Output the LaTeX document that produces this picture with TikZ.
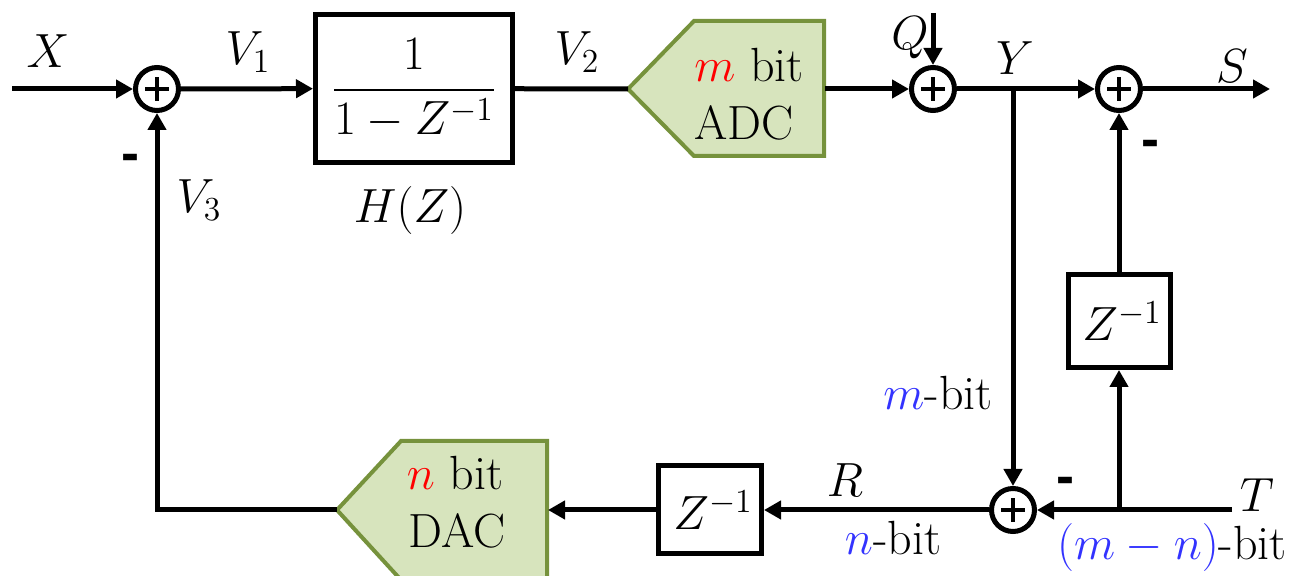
\RequirePackage{fix-cm}
\documentclass[tikz,border=0pt]{standalone}
\usepackage{amsmath}
\usepackage{fontspec}
\newfontfamily\minusfont{Liberation Sans}
\usetikzlibrary{arrows.meta}
\definecolor{adcfill}{RGB}{215,228,189}
\definecolor{adcline}{RGB}{118,146,60}
\definecolor{bitred}{RGB}{255,0,0}
\definecolor{bitblue}{RGB}{51,51,255}
\tikzset{
  wire/.style={line width=2.5pt},
  arr/.style={wire,-{Triangle[length=8.5pt,width=9pt]}},
  sumnode/.style={circle,draw,line width=2.5pt,minimum size=21.5pt,inner sep=0pt,
    path picture={
      \draw[line width=2.2pt] ([xshift=-6pt]path picture bounding box.center) -- ([xshift=6pt]path picture bounding box.center);
      \draw[line width=2.2pt] ([yshift=-6pt]path picture bounding box.center) -- ([yshift=6pt]path picture bounding box.center);}},
  blockbox/.style={draw,line width=2.5pt,inner sep=0pt},
  lbl/.style={inner sep=0pt,anchor=base},
  minus/.style={font=\minusfont\bfseries\fontsize{27}{30}\selectfont,inner sep=0pt},
  conv/.style={fill=adcfill,draw=adcline,line width=2pt,line join=miter},
  every node/.style={font=\fontsize{24}{29}\selectfont}
}
\begin{document}
\begin{tikzpicture}[x=0.5pt,y=-0.5pt]
\useasboundingbox (0,0) rectangle (1297,576);

% summing junctions
\node[sumnode] (s1) at (157,89) {};
\node[sumnode] (s2) at (933,89) {};
\node[sumnode] (s3) at (1119,89) {};
\node[sumnode] (s4) at (1013,510) {};

% blocks
\node[blockbox,minimum width=98.5pt,minimum height=74pt] (H) at (414,88.5) {$\dfrac{1}{1-Z^{-1}}$};
\node[blockbox,minimum width=51pt,minimum height=46.5pt] (Zr) at (1119,321) {\hspace*{3pt}$Z^{-1}$};
\node[blockbox,minimum width=51.5pt,minimum height=44pt] (Zb) at (710,510) {\hspace*{3pt}$Z^{-1}$};

% ADC
\draw[conv] (628,89) -- (694,21) -- (824,21) -- (824,156) -- (694,156) -- cycle;
\coordinate (adcIn) at (628,89);
\coordinate (adcOut) at (825,89);
\node[lbl] (adcT1) at (749,82) {\textcolor{bitred}{$m$} bit};
\node[lbl] (adcT2) at (744,140) {ADC};

% DAC
\draw[conv] (337,510) -- (401,441) -- (547,441) -- (547,580) -- (401,580) -- cycle;
\coordinate (dacIn) at (337,510);
\coordinate (dacOut) at (548,510);
\node[lbl] (dacT1) at (455,490) {\textcolor{bitred}{$n$} bit};
\node[lbl] (dacT2) at (457,548) {DAC};

% free ends
\coordinate (xin) at (12,89);
\coordinate (qin) at (933,13);
\coordinate (sout) at (1270,89);
\coordinate (ybr) at (1013,89);
\coordinate (tin) at (1232,510);
\coordinate (tbr) at (1119,510);

% connectors
\draw[arr] (xin) -- (s1);
\draw[arr] (s1) -- (H);
\draw[wire] (H) -- (adcIn);
\draw[arr] (adcOut) -- (s2);
\draw[arr] (qin) -- (s2);
\draw[arr] (s2) -- (s3);
\draw[arr] (s3) -- (sout);
\draw[arr] (ybr) -- (s4);
\draw[arr] (Zr) -- (s3);
\draw[arr] (tin) -- (s4);
\draw[arr] (tbr) -- (Zr);
\draw[arr] (s4) -- (Zb);
\draw[arr] (Zb) -- (dacOut);
\draw[arr] (dacIn) -- (s1 |- dacIn) -- (s1);

% labels
\node[lbl] (lX) at (48,68) {$X$};
\node[lbl] (lV1) at (248,65) {$V_1$};
\node[lbl] (lV2) at (577,65) {$V_2$};
\node[lbl] (lV3) at (199,213) {$V_3$};
\node[lbl] (lH) at (410,223) {$H(Z)$};
\node[lbl] (lQ) at (910,50) {$Q$};
\node[lbl] (lY) at (1015,75) {$Y$};
\node[lbl] (lS) at (1232,83) {$S$};
\node[lbl] (lmb) at (938,410) {\textcolor{bitblue}{$m$}-bit};
\node[lbl] (lR) at (845,497) {$R$};
\node[lbl] (lnb) at (893,555) {\textcolor{bitblue}{$n$}-bit};
\node[lbl] (lmnb) at (1172,560) {\textcolor{bitblue}{$(m-n)$}-bit};
\node[lbl] (lT) at (1257,512) {$T$};
\node[minus] (m1) at (130,163) {-};
\node[minus] (m2) at (1150,149) {-};
\node[minus] (m3) at (1065,486) {-};
\end{tikzpicture}
\end{document}
